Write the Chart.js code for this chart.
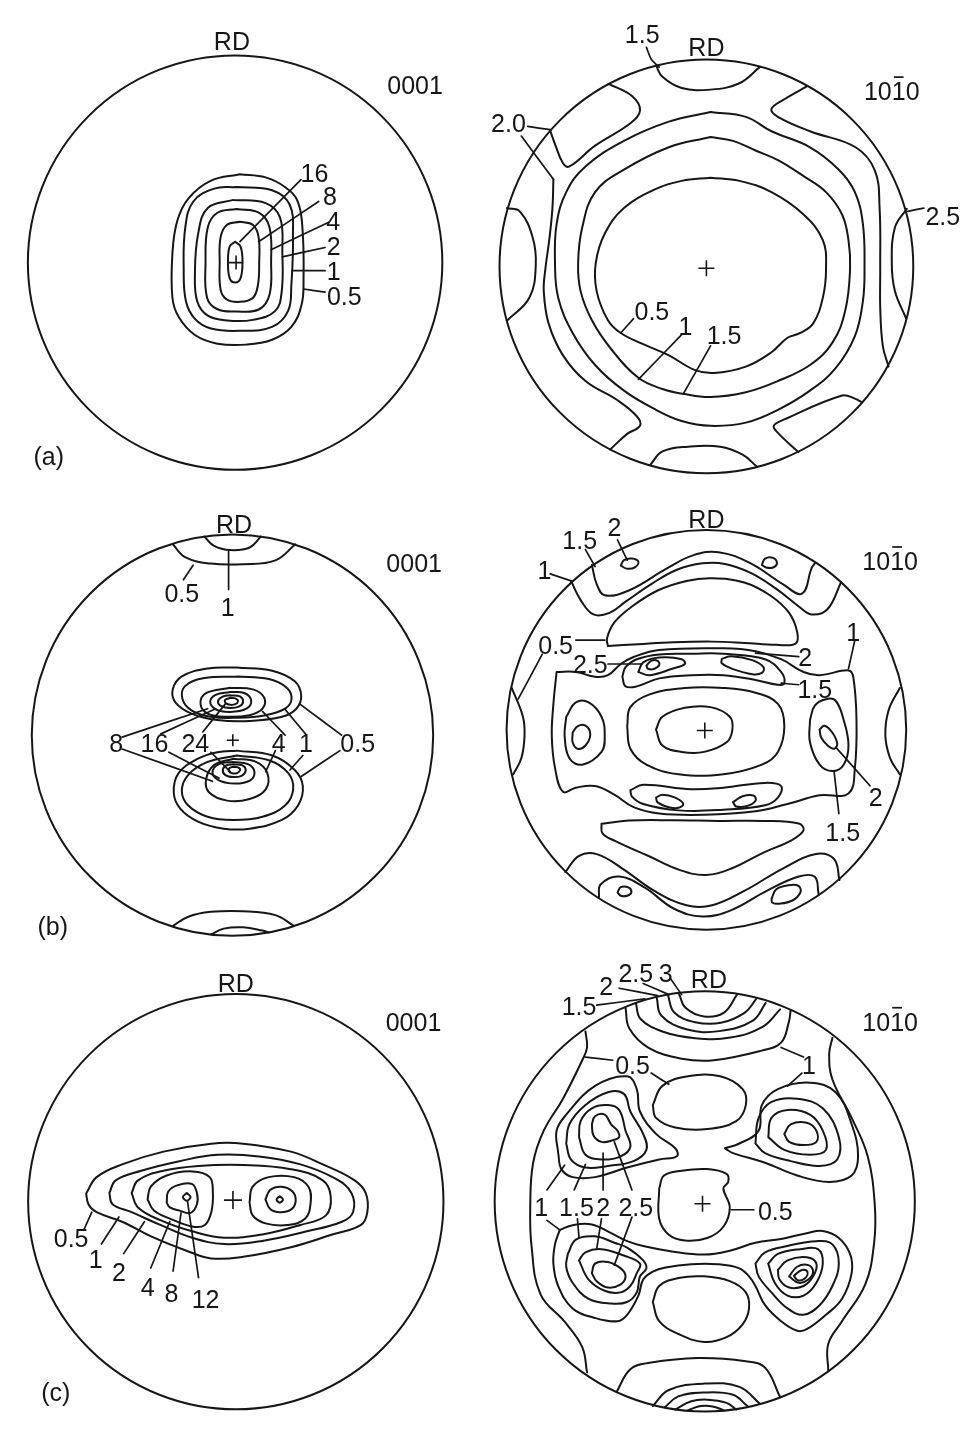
<!DOCTYPE html>
<html><head><meta charset="utf-8">
<script src="https://cdn.jsdelivr.net/npm/chart.js@4.4.1/dist/chart.umd.min.js"></script>
<style>
html,body{margin:0;padding:0;background:#fff;width:978px;height:1431px;overflow:hidden;position:relative}
canvas{position:absolute}
</style>
</head><body>
<script>
// ===== Panel (a) 0001 =====
const aL_closed = [
 [[0,65],[17,50],[23,2],[17,-48],[0,-62],[-17,-48],[-22,2],[-17,50]],
 [[15,127],[55,118],[73,80],[75,0],[71,-70],[55,-110],[15,-122],[-25,-115],[-45,-85],[-48,0],[-45,80],[-25,118]],
 [[5,167],[75,155],[107,110],[112,0],[107,-100],[75,-145],[5,-152],[-55,-145],[-87,-110],[-92,0],[-85,110],[-55,155]],
 [[-5,195],[95,185],[140,140],[147,30],[145,-90],[125,-150],[55,-178],[-25,-180],[-85,-165],[-118,-120],[-125,-30],[-115,90],[-85,170]],
 [[5,235],[115,225],[170,180],[180,80],[175,-70],[165,-150],[115,-200],[15,-212],[-75,-205],[-125,-175],[-153,-120],[-160,-20],[-155,110],[-130,190],[-65,230]],
 [[15,275],[95,265],[155,235],[195,190],[210,100],[213,-50],[207,-130],[175,-200],[115,-240],[35,-255],[-55,-252],[-125,-225],[-175,-170],[-195,-110],[-195,30],[-180,130],[-145,200],[-75,255]]
];
const aL_open = [];
const aL_leaders = [
 [[15,65],[205,258]],[[73,65],[260,190]],[[112,40],[290,125]],[[147,18],[280,47]],[[177,-25],[280,-25]],[[213,-82],[280,-92]]
];
const aL_labels = [['16',247,278],['8',295,208],['4',305,130],['2',307,50],['1',307,-27],['0.5',340,-105]];
const aL_marks = [['RD',-10,688],['0001',560,552],['(a)',-580,-600]];
const aL_cross = [[3,0]];

// ===== Panel (a) 10-10 =====
const aR_closed = [
 [[13,277],[103,267],[203,232],[303,162],[363,82],[373,-8],[363,-98],[333,-178],[293,-208],[253,-223],[203,-268],[123,-313],[23,-333],[-37,-323],[-117,-278],[-197,-243],[-267,-208],[-307,-168],[-342,-78],[-345,10],[-317,102],[-257,182],[-157,242],[-77,267]],
 [[13,404],[83,392],[153,362],[223,332],[303,282],[373,232],[423,162],[443,82],[448,-8],[433,-138],[393,-238],[323,-308],[223,-358],[123,-393],[13,-408],[-72,-398],[-137,-383],[-212,-348],[-297,-258],[-357,-168],[-392,-78],[-400,10],[-387,122],[-347,232],[-257,302],[-117,372]],
 [[13,482],[123,467],[203,422],[323,372],[413,302],[463,232],[488,132],[493,-8],[488,-108],[463,-218],[403,-318],[323,-388],[223,-448],[123,-488],[13,-498],[-77,-483],[-157,-448],[-257,-388],[-347,-308],[-417,-208],[-462,-98],[-472,10],[-467,132],[-437,232],[-377,312],[-257,392],[-117,452]]
];
const aR_open = [
 [[-157,627],[-137,592],[-77,557],[13,552],[103,572],[167,623]],
 [[-305,570],[-232,532],[-207,487],[-237,447],[-347,377],[-427,312],[-447,322],[-472,382],[-487,424]],
 [[-477,272],[-480,182],[-490,82],[-502,-8],[-507,-78],[-492,-178],[-447,-278],[-377,-358],[-277,-418],[-217,-468],[-207,-498],[-247,-523],[-300,-572]],
 [[313,562],[243,522],[203,492],[223,467],[323,422],[465,372],[525,300],[540,182],[542,-8],[542,-128],[550,-248],[568,-313]],
 [[-622,182],[-582,172],[-542,92],[-532,2],[-552,-98],[-622,-170]],
 [[625,180],[588,122],[578,12],[588,-78],[623,-163]],
 [[-175,-620],[-137,-578],[-57,-563],[43,-563],[113,-588],[157,-625]],
 [[287,-580],[223,-520],[210,-498],[243,-478],[423,-403],[463,-413],[483,-423]]
];
const aR_leaders = [
 [[-187,684],[-172,647],[-147,622]],[[-557,437],[-487,427]],[[-577,407],[-477,272]],[[628,172],[678,182]],
 [[-267,-208],[-227,-163]],[[-212,-353],[-77,-213]],[[-72,-398],[13,-248]]
];
const aR_labels = [['1.5',-200,725],['2.0',-617,447],['2.5',737,157],['0.5',-170,-140],['1',-65,-185],['1.5',55,-215]];
const aR_marks = [['RD',0,684],['1010',578,547,2]];
const aR_cross = [[0,-6]];

// ===== Panel (b) 0001 =====
const bL_closed = [
 [[13,210],[123,200],[193,167],[213,122],[198,82],[153,57],[53,44],[-47,47],[-127,67],[-177,102],[-185,142],[-157,182],[-77,207]],
 [[13,182],[113,174],[168,147],[183,112],[163,82],[103,62],[13,54],[-67,57],[-127,77],[-155,112],[-147,152],[-87,177]],
 [[-7,147],[63,142],[98,117],[93,82],[53,62],[-17,57],[-77,67],[-99,97],[-82,130]],
 [[-7,134],[38,130],[58,107],[43,82],[-7,72],[-52,80],[-69,104],[-52,125]],
 [[-7,124],[23,120],[33,104],[21,89],[-7,84],[-35,90],[-45,105],[-32,119]],
 [[-5,116],[13,112],[17,104],[9,96],[-7,94],[-21,100],[-23,109]],
 [[13,-48],[123,-63],[193,-108],[218,-158],[203,-218],[153,-263],[53,-290],[-27,-290],[-107,-268],[-162,-228],[-182,-178],[-167,-118],[-107,-73],[-47,-53]],
 [[13,-63],[113,-78],[173,-118],[188,-168],[163,-218],[93,-253],[3,-263],[-77,-253],[-137,-218],[-157,-173],[-137,-123],[-77,-83]],
 [[3,-73],[73,-83],[108,-118],[103,-168],[53,-198],[-17,-203],[-72,-178],[-82,-138],[-57,-93]],
 [[3,-83],[48,-90],[68,-113],[55,-140],[8,-150],[-42,-140],[-62,-116],[-42,-90]],
 [[3,-90],[31,-94],[41,-110],[28,-126],[3,-130],[-22,-124],[-30,-108],[-19,-94]],
 [[5,-98],[21,-102],[23,-110],[13,-118],[-1,-118],[-11,-112],[-9,-102]]
];
const bL_open = [
 [[-185,592],[-147,552],[-67,532],[33,530],[133,542],[195,592]],
 [[-87,616],[-57,587],[-7,574],[53,582],[88,616]],
 [[-185,-592],[-137,-563],[-67,-548],[33,-546],[133,-558],[188,-590]],
 [[-67,-618],[-27,-600],[33,-596],[93,-606],[113,-612]]
];
const bL_leaders = [
 [[-122,527],[-152,482]],[[-12,572],[-12,452]],
 [[-342,-6],[-77,82]],[[-342,-43],[-62,-143]],
 [[-222,4],[-52,82]],[[-197,-53],[-42,-133]],
 [[-92,10],[-22,97]],[[-67,-53],[-7,-113]],
 [[163,0],[93,74]],[[133,-48],[103,-113]],
 [[228,2],[163,80]],[[218,-63],[178,-108]],
 [[338,0],[208,97]],[[333,-48],[213,-128]]
];
const bL_labels = [['0.5',-157,442],['1',-15,397],['8',-360,-23],['16',-242,-23],['24',-115,-23],['4',143,-23],['1',228,-23],['0.5',388,-23]];
const bL_marks = [['RD',5,655],['0001',563,535],['(b)',-557,-593]];
const bL_cross = [[1,-16]];

// ===== Panel (b) 10-10 =====
const bR_closed = [
 [[-307,262],[-310,286],[-287,336],[-232,386],[-152,436],[-62,466],[18,474],[118,461],[198,421],[258,366],[283,306],[278,270],[218,266],[118,272],[18,276],[-102,274],[-212,268]],
 [[-467,181],[-407,181],[-347,166],[-307,171],[-267,206],[-227,228],[-147,250],[53,255],[153,246],[233,221],[303,181],[353,171],[443,186],[458,165],[468,31],[463,-119],[443,-199],[353,-205],[253,-232],[153,-255],[-7,-266],[-147,-262],[-227,-242],[-287,-203],[-347,-176],[-407,-181],[-447,-194],[-472,-119],[-482,-19],[-477,81]],
 [[-262,166],[-252,196],[-217,221],[-147,236],[-47,238],[53,238],[183,221],[233,181],[243,146],[223,141],[153,156],[53,171],[-47,171],[-147,161],[-217,136],[-252,136]],
 [[-212,181],[-197,211],[-147,226],[-77,221],[-67,206],[-107,191],[-177,171]],
 [[-187,201],[-172,216],[-152,216],[-147,203],[-162,191],[-182,191]],
 [[48,222],[78,230],[143,218],[178,196],[173,178],[143,174],[83,190],[48,208]],
 [[-247,11],[-237,71],[-177,111],[-67,131],[53,131],[153,116],[223,81],[243,11],[223,-69],[173,-109],[53,-139],[-87,-139],[-187,-109],[-237,-59]],
 [[-157,1],[-137,41],[-67,69],[13,71],[73,41],[81,1],[63,-39],[-7,-69],[-77,-69],[-137,-49]],
 [[-437,41],[-407,86],[-367,86],[-327,41],[-317,-19],[-327,-69],[-387,-109],[-427,-89],[-442,-19]],
 [[-417,-9],[-402,11],[-377,13],[-362,-14],[-377,-49],[-402,-59],[-417,-39]],
 [[323,31],[338,76],[373,96],[403,91],[428,31],[443,-49],[428,-109],[393,-129],[353,-109],[323,-39]],
 [[353,1],[368,13],[393,-9],[408,-44],[398,-59],[378,-49],[358,-24]],
 [[-237,-189],[-197,-172],[-47,-186],[53,-181],[183,-166],[233,-176],[223,-212],[183,-236],[53,-250],[-87,-252],[-197,-232],[-232,-209]],
 [[-157,-212],[-137,-203],[-97,-212],[-72,-232],[-87,-244],[-117,-242],[-152,-227]],
 [[83,-226],[113,-208],[148,-206],[153,-222],[128,-238],[93,-240]],
 [[-267,514],[-257,531],[-232,536],[-212,526],[-222,509],[-247,504]],
 [[173,516],[183,536],[208,538],[220,521],[208,508],[186,508]],
 [[-277,-509],[-267,-492],[-242,-494],[-234,-509],[-247,-519],[-267,-519]],
 [[203,-529],[218,-499],[258,-486],[288,-489],[293,-509],[268,-534],[228,-544],[206,-541]],
 [[-327,-294],[-242,-284],[-102,-283],[38,-285],[178,-285],[288,-293],[303,-314],[268,-344],[178,-384],[78,-434],[-2,-454],[-82,-439],[-182,-394],[-282,-349],[-324,-324]]
];
const bR_open = [
 [[-422,466],[-392,406],[-352,361],[-302,366],[-252,401],[-172,456],[-92,501],[-12,521],[58,519],[138,491],[218,441],[288,386],[328,361],[378,378],[420,462]],
 [[-357,516],[-342,456],[-317,421],[-242,436],[-122,506],[-42,546],[38,556],[138,521],[238,456],[298,426],[328,506],[338,521]],
 [[-440,-445],[-397,-394],[-342,-389],[-262,-434],[-162,-504],[-62,-549],[18,-549],[118,-504],[238,-434],[338,-389],[398,-404],[415,-470]],
 [[-335,-525],[-330,-484],[-272,-459],[-192,-494],[-102,-559],[-12,-584],[78,-564],[188,-504],[288,-459],[338,-460],[350,-515]],
 [[-607,131],[-572,41],[-567,-19],[-577,-89],[-602,-139]],
 [[603,131],[568,61],[558,-19],[573,-89],[603,-139]]
];
const bR_leaders = [
 [[-487,488],[-422,466]],[[-377,564],[-347,511]],[[-277,594],[-247,531]],
 [[-407,281],[-317,281]],[[-512,236],[-587,96]],[[-307,206],[-202,206]],
 [[153,240],[288,229]],[[233,146],[288,141]],[[463,281],[443,191]],
 [[403,-54],[510,-175]],[[398,-129],[413,-262]]
];
const bR_labels = [['1',-505,501],['1.5',-395,594],['2',-287,636],['0.5',-470,264],['2.5',-362,206],['2',308,229],['1.5',338,129],['1',458,305],['2',528,-211],['1.5',425,-319]];
const bR_marks = [['RD',0,659],['1010',573,528,2]];
const bR_cross = [[-5,-2]];

// ===== Panel (c) 0001 =====
const cL_closed = [
 [[-470,25],[-437,77],[-357,117],[-227,157],[-77,182],[23,182],[173,157],[273,117],[373,67],[408,27],[413,-33],[393,-73],[303,-103],[173,-143],[23,-173],[-77,-178],[-157,-153],[-257,-113],[-357,-63],[-437,-33],[-462,-10]],
 [[-397,27],[-377,67],[-297,97],[-177,127],[-57,147],[73,142],[203,117],[313,72],[363,27],[368,-33],[333,-63],[223,-93],[83,-123],[-37,-133],[-137,-113],[-237,-73],[-327,-33],[-387,-8]],
 [[-327,27],[-307,67],[-227,97],[-117,112],[23,115],[173,102],[273,67],[298,17],[283,-43],[203,-73],[83,-103],[-37,-113],[-137,-93],[-237,-58],[-307,-18]],
 [[-277,7],[-267,47],[-217,82],[-137,95],[-82,77],[-72,27],[-77,-33],[-97,-73],[-137,-78],[-207,-53],[-257,-28]],
 [[-217,-3],[-212,32],[-182,52],[-137,55],[-122,27],[-122,-8],[-142,-35],[-177,-28],[-207,-18]],
 [[-154,27],[-142,15],[-154,3],[-166,15]],
 [[43,-3],[53,47],[103,77],[183,77],[228,47],[235,-3],[218,-53],[163,-73],[93,-68],[53,-43]],
 [[93,7],[108,37],[143,47],[178,32],[188,2],[173,-25],[138,-33],[108,-23]],
 [[138,17],[148,7],[138,-3],[128,7]]
];
const cL_open = [];
const cL_leaders = [
 [[-477,-88],[-452,-33]],[[-422,-133],[-367,-48]],[[-352,-163],[-287,-63]],
 [[-267,-208],[-207,-62]],[[-197,-218],[-172,-35]],[[-117,-238],[-152,3]]
];
const cL_labels = [['0.5',-517,-113],['1',-440,-180],['2',-367,-220],['4',-277,-268],['8',-202,-288],['12',-95,-305]];
const cL_marks = [['RD',0,685],['0001',558,565],['(c)',-565,-598]];
const cL_cross = [[-9,5]];

// ===== Panel (c) 10-10 =====
const cR_closed = [
 [[-162,301],[-132,361],[-52,391],[48,391],[118,351],[128,301],[98,251],[8,226],[-92,231],[-152,261]],
 [[-142,41],[-127,81],[-72,96],[8,101],[68,86],[73,61],[58,41],[78,-19],[58,-79],[8,-114],[-62,-122],[-112,-104],[-142,-54]],
 [[-162,-314],[-142,-264],[-82,-239],[-2,-234],[78,-249],[128,-284],[138,-334],[118,-384],[68,-424],[-2,-439],[-82,-414],[-142,-374]],
 [[-457,151],[-462,221],[-432,271],[-342,361],[-242,391],[-212,351],[-202,281],[-152,211],[-92,166],[-87,141],[-142,131],[-242,106],[-342,76],[-412,76],[-447,101]],
 [[-432,181],[-422,241],[-372,301],[-302,341],[-252,336],[-232,281],[-192,211],[-182,161],[-222,126],[-302,111],[-372,106],[-417,131]],
 [[-392,201],[-387,251],[-352,291],[-302,301],[-267,286],[-247,221],[-232,171],[-262,141],[-322,131],[-372,146]],
 [[-352,241],[-342,266],[-312,271],[-292,241],[-272,221],[-267,201],[-287,191],[-322,186],[-347,206]],
 [[63,166],[108,181],[168,221],[178,301],[228,351],[328,371],[408,341],[458,241],[478,141],[458,81],[388,61],[288,81],[188,121],[88,151]],
 [[158,181],[168,261],[208,311],[288,321],[368,291],[418,201],[413,131],[358,111],[268,126],[188,151]],
 [[198,201],[208,261],[258,286],[328,271],[368,221],[378,161],[328,146],[248,161]],
 [[248,211],[268,241],[318,246],[348,221],[348,186],[308,176],[263,186]],
 [[-452,-89],[-412,-74],[-352,-72],[-292,-99],[-242,-124],[-192,-139],[-102,-156],[-2,-166],[78,-154],[158,-129],[238,-117],[318,-99],[368,-92],[418,-114],[453,-164],[458,-224],[428,-304],[378,-354],[318,-399],[288,-404],[238,-374],[188,-324],[158,-264],[138,-234],[108,-209],[38,-196],[-42,-196],[-122,-206],[-162,-219],[-192,-244],[-207,-294],[-242,-354],[-272,-374],[-342,-364],[-412,-334],[-457,-264],[-472,-194],[-467,-134]],
 [[-427,-164],[-402,-119],[-342,-109],[-282,-129],[-242,-144],[-192,-184],[-182,-209],[-202,-234],[-212,-284],[-242,-314],[-292,-319],[-362,-304],[-412,-254],[-432,-204]],
 [[-392,-184],[-372,-159],[-322,-149],[-252,-169],[-202,-194],[-212,-224],[-232,-264],[-262,-284],[-312,-279],[-362,-244]],
 [[-352,-224],[-342,-194],[-302,-189],[-262,-209],[-247,-234],[-262,-259],[-302,-269],[-337,-249]],
 [[158,-194],[188,-159],[258,-139],[348,-124],[398,-134],[418,-194],[398,-264],[358,-324],[308,-354],[258,-334],[208,-284],[168,-234]],
 [[198,-194],[228,-164],[298,-149],[353,-149],[368,-194],[348,-254],[308,-294],[258,-294],[218,-254]],
 [[228,-214],[258,-184],[318,-174],[348,-194],[338,-234],[308,-264],[263,-269],[233,-244]],
 [[263,-234],[288,-204],[323,-199],[338,-219],[323,-244],[293,-254]],
 [[278,-232],[303,-214],[320,-219],[313,-240],[290,-246]]
];
const cR_open = [
 [[-80,648],[-60,605],[-2,578],[60,590],[100,645]],
 [[-115,645],[-95,590],[-30,560],[50,558],[125,590],[160,632]],
 [[-150,638],[-135,580],[-55,537],[45,532],[150,565],[190,620]],
 [[-215,620],[-200,570],[-130,530],[-30,510],[80,512],[180,545],[235,600]],
 [[-247,605],[-235,540],[-175,480],[-72,446],[28,441],[178,471],[238,496],[262,560],[268,598]],
 [[-275,-595],[-232,-524],[-172,-504],[-22,-489],[128,-499],[188,-519],[235,-611]],
 [[-162,-639],[-112,-589],[-2,-569],[108,-579],[172,-632]],
 [[-125,-643],[-82,-609],[-2,-597],[88,-604],[133,-639]],
 [[-92,-650],[-42,-624],[8,-619],[68,-629],[98,-650]],
 [[-52,-652],[-12,-639],[28,-641],[58,-652]],
 [[-372,531],[-367,481],[-382,441],[-442,321],[-502,221],[-535,121],[-544,-9],[-540,-140],[-512,-290],[-435,-378],[-382,-455],[-367,-534]],
 [[398,511],[388,461],[398,381],[458,261],[508,141],[530,-9],[528,-130],[500,-260],[428,-374],[385,-445],[385,-530]]
];
const cR_leaders = [
 [[-337,613],[-187,633]],[[-267,666],[-147,643]],[[-192,681],[-112,646]],[[-107,696],[-72,646]],
 [[-372,451],[-287,441]],[[-167,401],[-112,366]],
 [[238,481],[308,451]],[[303,401],[258,360]],
 [[83,-26],[153,-26]],
 [[-492,36],[-437,113]],[[-492,-59],[-452,-89]],
 [[-407,36],[-372,116]],[[-397,-54],[-392,-114]],
 [[-317,36],[-317,151]],[[-322,-54],[-337,-149]],
 [[-227,36],[-282,186]],[[-227,-49],[-282,-199]]
];
const cR_labels = [['1.5',-392,609],['2',-307,674],['2.5',-215,714],['3',-122,714],['0.5',-225,426],['1',325,426],['0.5',220,-31],['1',-510,-19],['1.5',-400,-19],['2',-317,-19],['2.5',-215,-19]];
const cR_marks = [['RD',13,694],['1010',578,561,2]];
const cR_cross = [[-7,-7]];

// ===== layout (page placement, not data) =====
const INK = '#161616';
const FONT_PX = 25;
const K = 3; // data units per page pixel
const panels = [
 {cx:235,   cy:263.3,  R:645, rect:[0,0,476,488],     closed:aL_closed, open:aL_open, leaders:aL_leaders, texts:aL_labels.concat(aL_marks), cross:aL_cross, crossR:7},
 {cx:705.7, cy:267.3,  R:645, rect:[470,0,508,488],   closed:aR_closed, open:aR_open, leaders:aR_leaders, texts:aR_labels.concat(aR_marks), cross:aR_cross, crossR:8},
 {cx:232.3, cy:735.7,  R:622, rect:[0,486,476,466],   closed:bL_closed, open:bL_open, leaders:bL_leaders, texts:bL_labels.concat(bL_marks), cross:bL_cross, crossR:6},
 {cx:705.7, cy:730.3,  R:623, rect:[470,486,508,466], closed:bR_closed, open:bR_open, leaders:bR_leaders, texts:bR_labels.concat(bR_marks), cross:bR_cross, crossR:8},
 {cx:235.7, cy:1202.3, R:652, rect:[0,945,476,486],   closed:cL_closed, open:cL_open, leaders:cL_leaders, texts:cL_labels.concat(cL_marks), cross:cL_cross, crossR:9},
 {cx:704,   cy:1202,   R:655, rect:[470,945,508,486], closed:cR_closed, open:cR_open, leaders:cR_leaders, texts:cR_labels.concat(cR_marks), cross:cR_cross, crossR:8}
];

const poleFrame = {
  id: 'poleFrame',
  beforeDatasetsDraw(chart, args, o) {
    const ctx = chart.ctx, sx = chart.scales.x, sy = chart.scales.y;
    const x0 = sx.getPixelForValue(0), y0 = sy.getPixelForValue(0);
    const r = sx.getPixelForValue(o.radius) - x0;
    ctx.save();
    ctx.beginPath(); ctx.arc(x0, y0, r, 0, Math.PI * 2);
    ctx.lineWidth = 2; ctx.strokeStyle = INK; ctx.stroke();
    ctx.restore();
  },
  afterDatasetsDraw(chart, args, o) {
    const ctx = chart.ctx, sx = chart.scales.x, sy = chart.scales.y;
    ctx.save();
    ctx.font = FONT_PX + 'px "Liberation Sans", Arial, sans-serif';
    ctx.fillStyle = INK; ctx.textAlign = 'left'; ctx.textBaseline = 'alphabetic';
    const cap = FONT_PX * 0.716;
    o.texts.forEach(t => {
      const s = t[0], px = sx.getPixelForValue(t[1]), py = sy.getPixelForValue(t[2]);
      const w = ctx.measureText(s).width;
      const left = px - w / 2, base = py + cap / 2;
      ctx.fillText(s, left, base);
      if (t[3] !== undefined) {
        const a = ctx.measureText(s.slice(0, t[3])).width;
        const b = ctx.measureText(s.slice(0, t[3] + 1)).width;
        const pad = (b - a) * 0.15;
        ctx.fillRect(left + a + pad, base - cap - 6, (b - a) - 2 * pad, 1.7);
      }
    });
    ctx.restore();
  }
};

function lineDs(pts, closed, tension, width) {
  const d = closed ? pts.concat([pts[0]]) : pts;
  return {
    data: d.map(p => ({x: p[0], y: p[1]})),
    showLine: true, borderColor: INK, borderWidth: width,
    pointRadius: 0, pointHoverRadius: 0, tension: tension, fill: false,
    borderCapStyle: 'round', borderJoinStyle: 'round'
  };
}

panels.forEach(p => {
  const c = document.createElement('canvas');
  const [L, T, W, H] = p.rect;
  c.width = W; c.height = H;
  c.style.left = L + 'px'; c.style.top = T + 'px';
  c.style.width = W + 'px'; c.style.height = H + 'px';
  document.body.appendChild(c);
  const datasets = [];
  p.closed.forEach(pts => datasets.push(lineDs(pts, true, 0.4, 2)));
  p.open.forEach(pts => datasets.push(lineDs(pts, false, 0.4, 2)));
  p.leaders.forEach(pts => datasets.push(lineDs(pts, false, 0.25, 1.7)));
  datasets.push({
    data: p.cross.map(q => ({x: q[0], y: q[1]})), showLine: false,
    pointStyle: 'cross', pointRadius: p.crossR, pointHoverRadius: p.crossR,
    borderColor: INK, backgroundColor: INK, borderWidth: 1.6
  });
  new Chart(c, {
    type: 'scatter',
    data: {datasets},
    options: {
      responsive: false, animation: false, devicePixelRatio: 1, events: [],
      layout: {padding: 0},
      scales: {
        x: {type: 'linear', display: false, min: (L - p.cx) * K, max: (L + W - p.cx) * K},
        y: {type: 'linear', display: false, min: (p.cy - T - H) * K, max: (p.cy - T) * K}
      },
      plugins: {legend: {display: false}, tooltip: {enabled: false},
        poleFrame: {radius: p.R, texts: p.texts}}
    },
    plugins: [poleFrame]
  });
});
</script>
</body></html>
